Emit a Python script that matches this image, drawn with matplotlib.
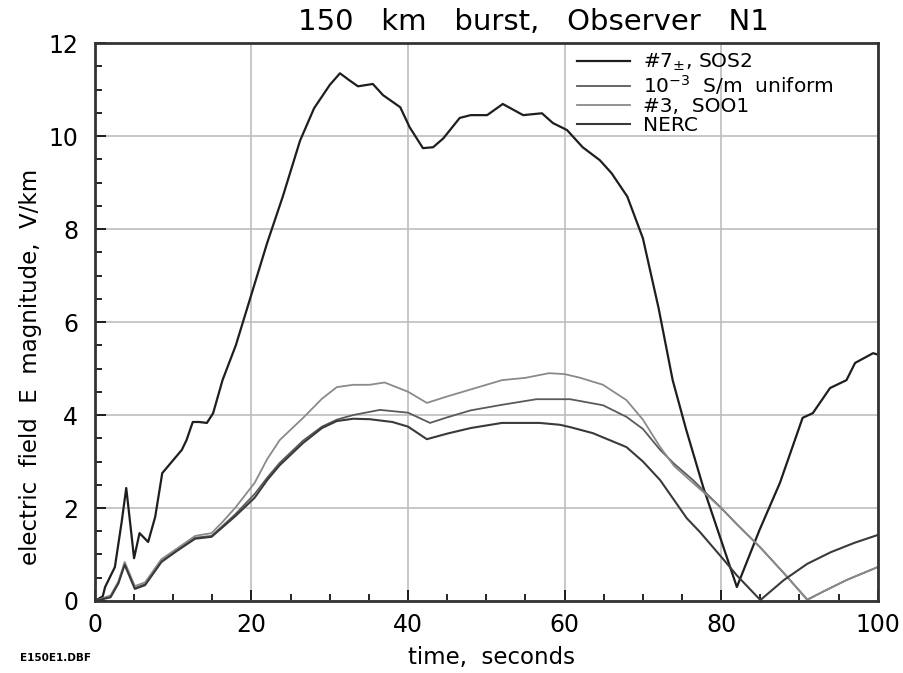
import numpy as np
import matplotlib
matplotlib.use("Agg")
import matplotlib.pyplot as plt
from matplotlib.ticker import MultipleLocator

# 150 km burst, observer N1 - E field magnitude vs time

t_sos2 = [0, 1, 1.3, 2.55, 3.4, 4.0, 4.5, 5.0, 5.7, 6.8, 7.7, 8.6, 9.8, 11.1, 11.7, 12.5, 13.3, 14.3, 15.1,
          16.3, 18, 20, 22, 24, 26.2, 28, 30, 31.3, 32.5, 33.6, 35.5, 36.8, 39, 40.2, 41.9, 43.2, 44.5,
          46.6, 48, 50.1, 52.1, 54.7, 57.1, 58.5, 60.3, 62.3, 64.5, 66, 68, 70, 72, 73.8, 75.5, 77.7,
          80, 82, 84.9, 87.5, 90.4, 91.7, 93.9, 96, 97.1, 99.4, 100]
e_sos2 = [0, 0.1, 0.3, 0.73, 1.68, 2.43, 1.68, 0.92, 1.46, 1.27, 1.81, 2.75, 2.99, 3.25, 3.46, 3.85, 3.85, 3.83, 4.04,
          4.75, 5.5, 6.6, 7.7, 8.7, 9.9, 10.6, 11.1, 11.35, 11.2, 11.07, 11.12, 10.88, 10.62, 10.19, 9.74, 9.76, 9.95,
          10.39, 10.45, 10.45, 10.69, 10.45, 10.49, 10.28, 10.13, 9.76, 9.48, 9.2, 8.7, 7.8, 6.3, 4.75, 3.7, 2.45,
          1.3, 0.3, 1.53, 2.54, 3.94, 4.04, 4.58, 4.75, 5.12, 5.33, 5.3]

t_unif = [0, 2, 3, 3.8, 5.1, 6.4, 8.5, 10.5, 12.8, 14.9, 17.9, 20.4, 22, 23.6, 26.6, 29, 30.9, 33, 36.4,
          40, 42.8, 45, 48, 52, 56.4, 60.7, 64.9, 67.9, 70, 72.2, 74, 76.4, 78, 80, 82, 85, 88, 91,
          93, 96, 100]
e_unif = [0, 0.1, 0.4, 0.8, 0.28, 0.36, 0.86, 1.1, 1.36, 1.4, 1.86, 2.3, 2.65, 2.97, 3.45, 3.75, 3.9, 4.0, 4.11,
          4.05, 3.83, 3.95, 4.1, 4.22, 4.34, 4.34, 4.21, 3.96, 3.7, 3.25, 2.95, 2.6, 2.33, 2.0, 1.65, 1.15, 0.6, 0.03,
          0.2, 0.45, 0.73]

t_soo1 = [0, 2, 3, 3.8, 5.1, 6.4, 8.5, 10.5, 12.8, 14.9, 16.3, 17.9, 20.4, 22, 23.6, 26.6, 29, 30.9, 33, 35.1,
          37, 40, 42.4, 45, 48, 50, 52, 55, 58, 60, 62, 64.9, 67.9, 70, 72.2, 74, 76.4, 78, 80, 82, 85, 88,
          91, 93, 96, 100]
e_soo1 = [0, 0.12, 0.42, 0.84, 0.32, 0.4, 0.9, 1.13, 1.4, 1.46, 1.7, 2.0, 2.54, 3.05, 3.46, 3.94, 4.35, 4.6, 4.65, 4.65,
          4.7, 4.5, 4.26, 4.4, 4.55, 4.65, 4.75, 4.8, 4.9, 4.88, 4.8, 4.65, 4.32, 3.9, 3.31, 2.9, 2.54, 2.3, 2.0, 1.65,
          1.15, 0.6, 0.02, 0.2, 0.45, 0.73]

t_nerc = [0, 2, 3, 3.8, 5.1, 6.4, 8.5, 10.5, 12.8, 14.9, 17.9, 20.4, 22, 23.6, 26.6, 29, 30.9, 33, 35.1,
          38, 40, 42.4, 45, 48, 52, 56.8, 59.4, 60.7, 63.6, 67.9, 70, 72.2, 75.6, 77.3, 80, 82, 85,
          88, 91, 94, 97, 100]
e_nerc = [0, 0.08, 0.38, 0.78, 0.26, 0.34, 0.84, 1.08, 1.34, 1.38, 1.82, 2.22, 2.6, 2.92, 3.4, 3.72, 3.87, 3.92, 3.91,
          3.85, 3.75, 3.48, 3.6, 3.72, 3.83, 3.83, 3.79, 3.74, 3.61, 3.31, 3.0, 2.6, 1.78, 1.48, 0.95, 0.55, 0.02,
          0.45, 0.8, 1.05, 1.25, 1.42]

plt.rcParams['font.family'] = 'DejaVu Sans'

fig = plt.figure(figsize=(9.04, 6.73), dpi=100)
ax = fig.add_axes([0.105, 0.107, 0.866, 0.829])

ax.plot(t_sos2, e_sos2, color="#1e1e1e", lw=1.6, label="#7$_{\\pm}$, SOS2")
ax.plot(t_unif, e_unif, color="#5a5a5a", lw=1.3, label="10$^{-3}$  S/m  uniform")
ax.plot(t_soo1, e_soo1, color="#8a8a8a", lw=1.3, label="#3,  SOO1")
ax.plot(t_nerc, e_nerc, color="#3a3a3a", lw=1.5, label="NERC")

ax.set_xlim(0, 100)
ax.set_ylim(0, 12)
ax.xaxis.set_major_locator(MultipleLocator(20))
ax.xaxis.set_minor_locator(MultipleLocator(5))
ax.yaxis.set_major_locator(MultipleLocator(2))
ax.yaxis.set_minor_locator(MultipleLocator(0.5))
ax.tick_params(which="both", direction="in", labelsize=17, width=1.2)
ax.tick_params(which="major", length=8)
ax.tick_params(which="minor", length=5)
ax.tick_params(axis="x", which="major", pad=9)
ax.tick_params(axis="y", which="major", pad=12)
ax.grid(True, which="major", color="#bdbdbd", lw=1.2)
for s in ax.spines.values():
    s.set_linewidth(2)
    s.set_color("#333333")

ax.set_xlabel("time,  seconds", fontsize=16.5)
ax.xaxis.set_label_coords(0.506, -0.08)
ax.set_ylabel("electric  field  E  magnitude,  V/km", fontsize=16.5)
ax.yaxis.set_label_coords(-0.068, 0.42)
fig.text(0.59, 0.967, "150   km   burst,   Observer   N1", fontsize=21,
         ha="center", va="center")

leg = ax.legend(loc="upper left", frameon=False, fontsize=14.5, handlelength=2.6,
                handletextpad=0.65, labelspacing=0.0, borderpad=0.0, borderaxespad=0.0,
                bbox_to_anchor=(0.616, 0.984))

fig.text(0.022, 0.018, "E150E1.DBF", fontsize=7.5, fontweight="bold")

plt.savefig("out.png")
plt.close()
